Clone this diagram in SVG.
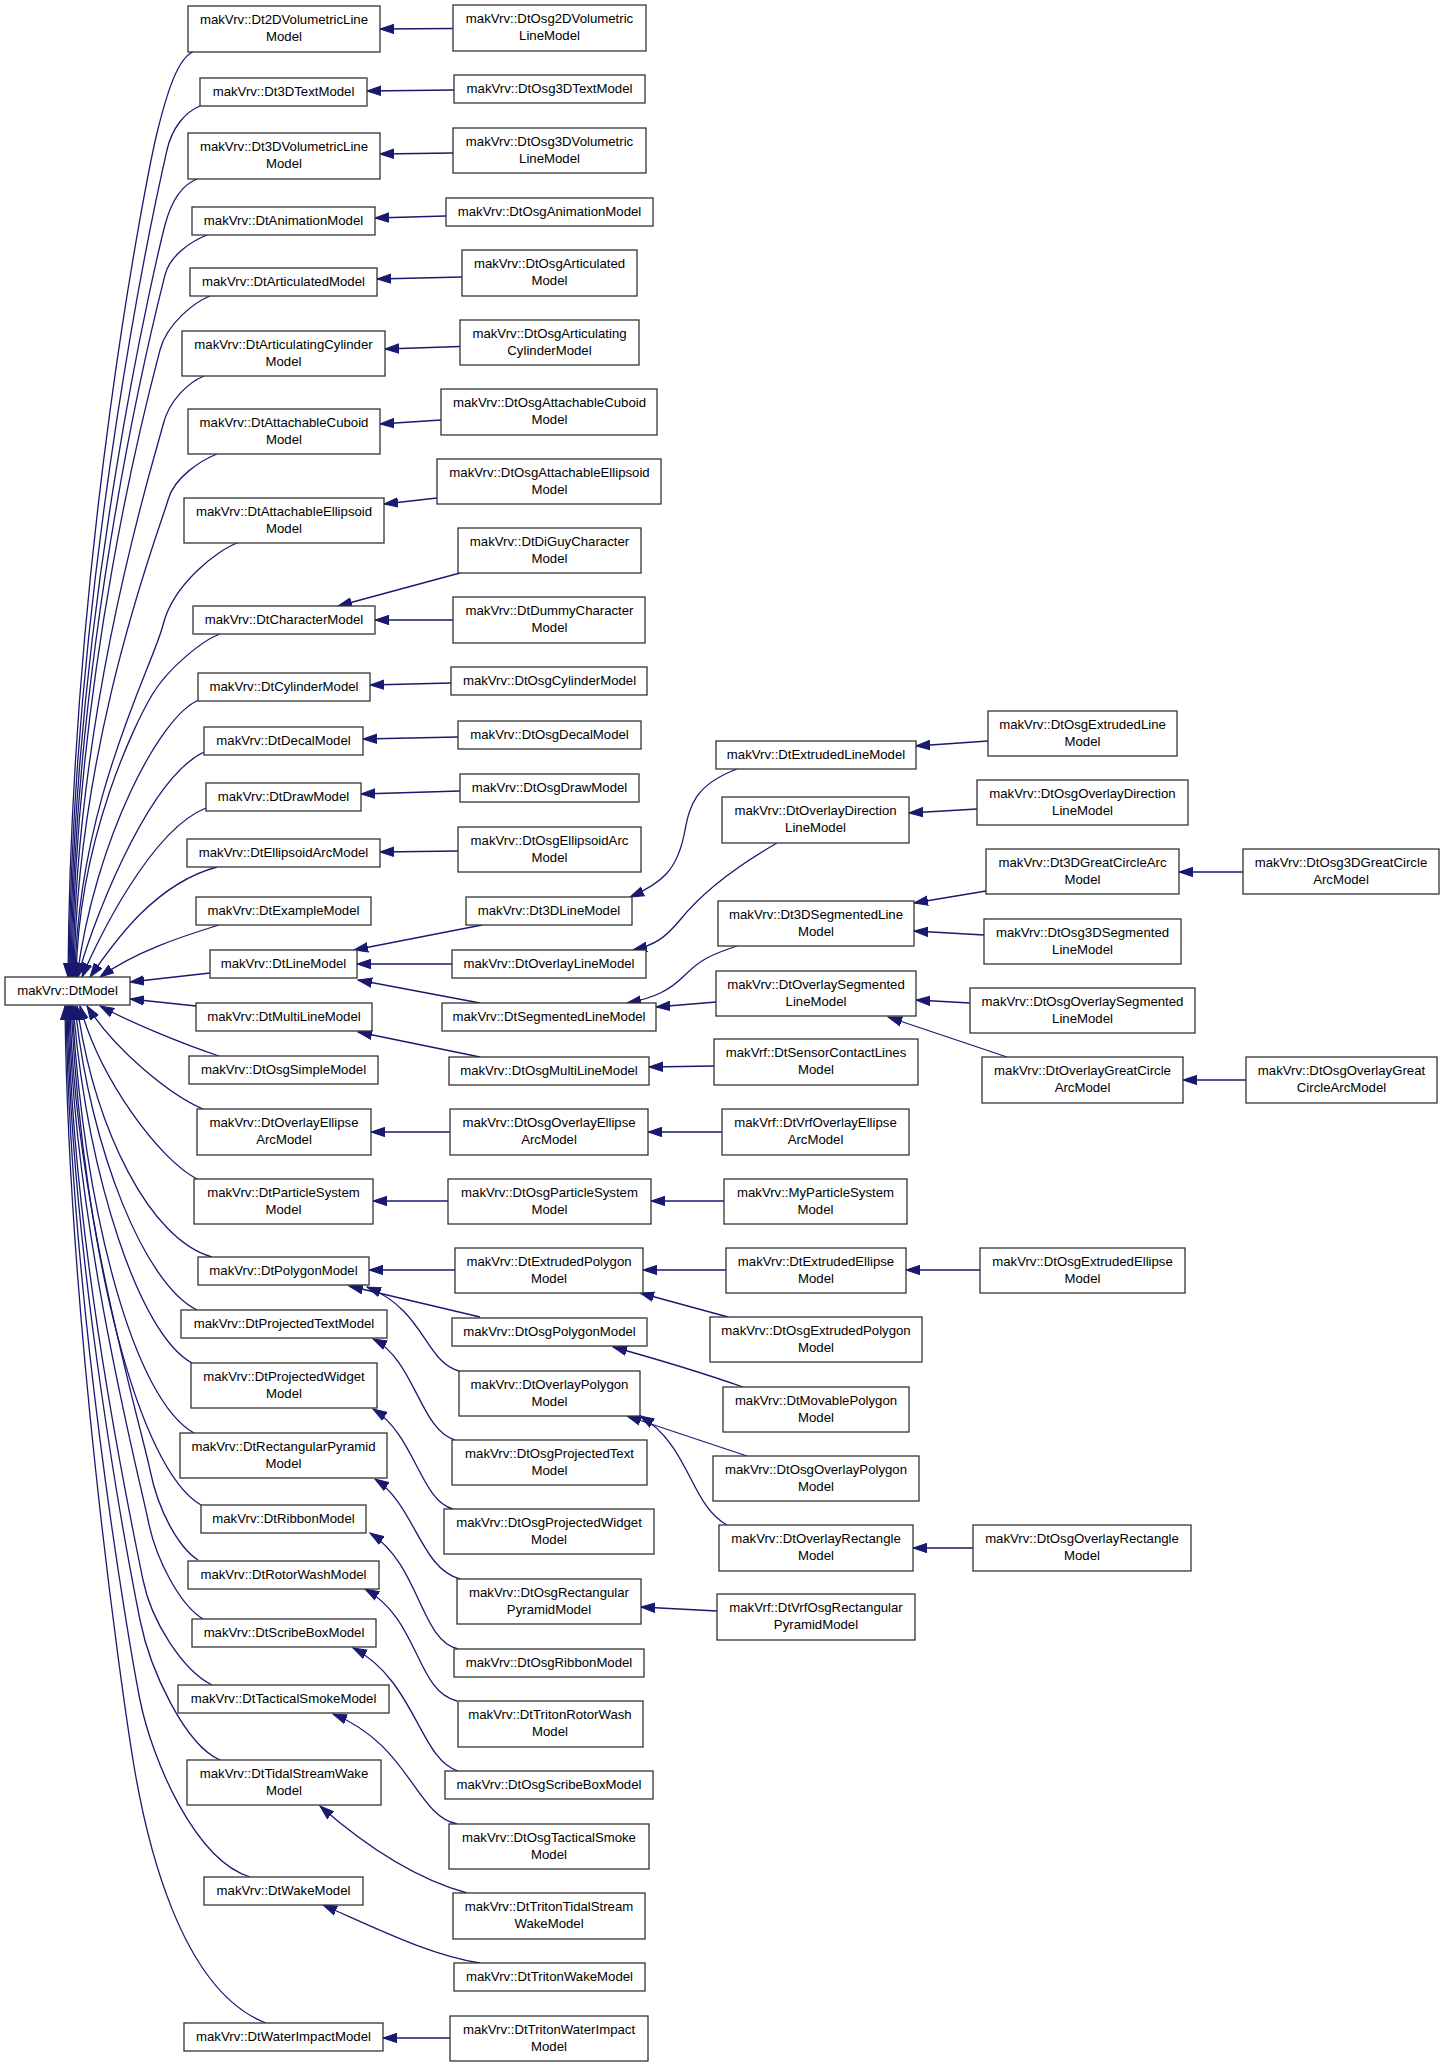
<svg xmlns="http://www.w3.org/2000/svg" width="1445" height="2067" viewBox="0 0 1445 2067">
<style>
.n rect{fill:#fff;stroke:#333;stroke-width:1.3}
.n text{font-family:"Liberation Sans",Arial,sans-serif;font-size:13.2px;fill:#000;text-anchor:middle;transform:translate(0px,-1px)}
#edges path{fill:none;stroke:#191970;stroke-width:1.3;marker-end:url(#ah)}
</style>
<defs>
<marker id="ah" markerUnits="userSpaceOnUse" markerWidth="15" markerHeight="11" viewBox="0 0 15 11" refX="14" refY="5.5" orient="auto"><path d="M0,0.8 L14,5.5 L0,10.2 z" fill="#191970" stroke="#191970" stroke-width="1"/></marker>
</defs>
<rect width="1445" height="2067" fill="#fff"/>
<g id="edges">
<path d="M193,52 C178,58 167,92 157,133 S71,555 68,977"/>
<path d="M200,106 C185,112 172,128 167,150 S72,564 69,977"/>
<path d="M197,179 C182,185 171,202 165,225 S73,601 70,977"/>
<path d="M207,235 C192,241 170,255 165,275 S74,626 71,977"/>
<path d="M210,296 C195,302 167,323 160,350 S75,663 72,977"/>
<path d="M204,376 C189,382 169,400 163,425 S76,701 73,977"/>
<path d="M217,454 C202,460 174,477 168,500 S77,738 74,977"/>
<path d="M237,543 C218,550 173,584 163,625 S78,801 75,977"/>
<path d="M220,634 C203,640 168,668 152,695 S79,836 76,977"/>
<path d="M199,700 C160,715 95,840 77,977"/>
<path d="M204,752 C145,780 88,935 78,977"/>
<path d="M206,808 C150,830 95,945 82,977"/>
<path d="M217,867 C150,885 108,952 90,977"/>
<path d="M219,925 C180,937 135,952 100,977"/>
<path d="M210,973 L130,982"/>
<path d="M196,1006 L130,999"/>
<path d="M219,1056 C180,1043 130,1022 100,1006"/>
<path d="M203,1109 C170,1095 115,1050 87,1006"/>
<path d="M197,1179 C160,1160 100,1080 80,1006"/>
<path d="M212,1257 C150,1240 95,1130 77,1006"/>
<path d="M197,1310 C145,1285 90,1150 75,1006"/>
<path d="M192,1363 C140,1335 88,1180 73,1006"/>
<path d="M194,1433 C135,1400 85,1220 72,1006"/>
<path d="M201,1505 C140,1470 84,1260 71,1006"/>
<path d="M198,1560 C178,1547 158,1510 150,1470 S74,1201 70,1006"/>
<path d="M203,1619 C180,1605 156,1560 148,1520 S73,1222 69,1006"/>
<path d="M212,1685 C182,1670 151,1620 143,1580 S72,1247 68,1006"/>
<path d="M220,1760 C185,1745 150,1670 140,1620 S71,1264 67,1006"/>
<path d="M250,1877 C195,1860 152,1760 140,1700 S70,1297 66,1006"/>
<path d="M266,2023 C180,1990 146,1840 133,1760 S68,1308 65,1006"/>
<path d="M453,28.5 L380,29"/>
<path d="M454,90 L367,91"/>
<path d="M453,153 L380,154"/>
<path d="M446,216 L375,218"/>
<path d="M462,277 L377,279"/>
<path d="M460,346.5 L385,349"/>
<path d="M441,420 L380,424"/>
<path d="M437,498 L384,504"/>
<path d="M460,573 L338,606"/>
<path d="M453,620 L375,620"/>
<path d="M451,683 L370,685"/>
<path d="M458,737 L363,739"/>
<path d="M460,791 L361,794"/>
<path d="M458,851 L380,852"/>
<path d="M482,925 L354,950"/>
<path d="M452,964 L357,964"/>
<path d="M480,1003 L358,980"/>
<path d="M480,1057 L358,1032"/>
<path d="M450,1132 L371,1132"/>
<path d="M448,1201 L373,1201"/>
<path d="M455,1270 L369,1270"/>
<path d="M480,1317 L349,1286"/>
<path d="M459,1371 C425,1362 425,1310 367,1287"/>
<path d="M455,1440 C420,1430 415,1360 373,1339"/>
<path d="M453,1509 C420,1500 415,1435 373,1409"/>
<path d="M460,1579 C420,1568 415,1505 375,1479"/>
<path d="M458,1649 C420,1640 420,1565 370,1533"/>
<path d="M457,1701 C415,1690 420,1620 365,1589"/>
<path d="M458,1771 C420,1760 415,1680 353,1648"/>
<path d="M457,1824 C415,1815 410,1745 333,1714"/>
<path d="M467,1893 C420,1880 370,1850 320,1806"/>
<path d="M480,1963 C430,1955 380,1930 323,1905"/>
<path d="M450,2038 L383,2038"/>
<path d="M737,769 C695,785 690,805 685,830 C678,870 662,883 630,897"/>
<path d="M777,843 C730,870 700,895 680,920 C665,938 655,945 633,950"/>
<path d="M737,946 C710,955 700,960 685,975 C670,990 655,998 627,1003"/>
<path d="M716,1002 L656,1007"/>
<path d="M714,1066 L649,1067"/>
<path d="M722,1132 L648,1132"/>
<path d="M724,1201 L651,1201"/>
<path d="M726,1270 L643,1270"/>
<path d="M728,1317 L640,1293"/>
<path d="M743,1387 C700,1372 660,1360 613,1347"/>
<path d="M747,1456 L627,1416"/>
<path d="M727,1525 C690,1505 690,1445 640,1416"/>
<path d="M717,1611 L641,1607"/>
<path d="M988,741 L916,746"/>
<path d="M977,809 L909,813"/>
<path d="M986,891 L914,903"/>
<path d="M984,935 L914,931"/>
<path d="M970,1003 L916,1000"/>
<path d="M1007,1057 L888,1017"/>
<path d="M980,1270 L906,1270"/>
<path d="M973,1548 L913,1548"/>
<path d="M1243,872 L1179,872"/>
<path d="M1246,1080 L1183,1080"/>
</g>
<g id="n_DtModel" class="n"><rect x="5" y="977" width="125" height="28"/><text x="67.5" y="995.5">makVrv::DtModel</text></g>
<g id="n_Dt2DVolumetricLineModel" class="n"><rect x="188" y="6" width="192" height="46"/><text x="284" y="25">makVrv::Dt2DVolumetricLine<tspan x="284" dy="17">Model</tspan></text></g>
<g id="n_Dt3DTextModel" class="n"><rect x="200" y="78" width="167" height="28"/><text x="283.5" y="96.5">makVrv::Dt3DTextModel</text></g>
<g id="n_Dt3DVolumetricLineModel" class="n"><rect x="188" y="133" width="192" height="46"/><text x="284" y="152">makVrv::Dt3DVolumetricLine<tspan x="284" dy="17">Model</tspan></text></g>
<g id="n_DtAnimationModel" class="n"><rect x="192" y="207" width="183" height="28"/><text x="283.5" y="225.5">makVrv::DtAnimationModel</text></g>
<g id="n_DtArticulatedModel" class="n"><rect x="190" y="268" width="187" height="28"/><text x="283.5" y="286.5">makVrv::DtArticulatedModel</text></g>
<g id="n_DtArticulatingCylinderModel" class="n"><rect x="182" y="331" width="203" height="45"/><text x="283.5" y="350">makVrv::DtArticulatingCylinder<tspan x="283.5" dy="17">Model</tspan></text></g>
<g id="n_DtAttachableCuboidModel" class="n"><rect x="188" y="409" width="192" height="45"/><text x="284" y="428">makVrv::DtAttachableCuboid<tspan x="284" dy="17">Model</tspan></text></g>
<g id="n_DtAttachableEllipsoidModel" class="n"><rect x="184" y="498" width="200" height="45"/><text x="284" y="517">makVrv::DtAttachableEllipsoid<tspan x="284" dy="17">Model</tspan></text></g>
<g id="n_DtCharacterModel" class="n"><rect x="193" y="606" width="182" height="28"/><text x="284" y="624.5">makVrv::DtCharacterModel</text></g>
<g id="n_DtCylinderModel" class="n"><rect x="198" y="673" width="172" height="28"/><text x="284" y="691.5">makVrv::DtCylinderModel</text></g>
<g id="n_DtDecalModel" class="n"><rect x="204" y="727" width="159" height="28"/><text x="283.5" y="745.5">makVrv::DtDecalModel</text></g>
<g id="n_DtDrawModel" class="n"><rect x="206" y="783" width="155" height="28"/><text x="283.5" y="801.5">makVrv::DtDrawModel</text></g>
<g id="n_DtEllipsoidArcModel" class="n"><rect x="187" y="839" width="193" height="28"/><text x="283.5" y="857.5">makVrv::DtEllipsoidArcModel</text></g>
<g id="n_DtExampleModel" class="n"><rect x="196" y="897" width="175" height="28"/><text x="283.5" y="915.5">makVrv::DtExampleModel</text></g>
<g id="n_DtLineModel" class="n"><rect x="210" y="950" width="147" height="28"/><text x="283.5" y="968.5">makVrv::DtLineModel</text></g>
<g id="n_DtMultiLineModel" class="n"><rect x="196" y="1003" width="176" height="28"/><text x="284" y="1021.5">makVrv::DtMultiLineModel</text></g>
<g id="n_DtOsgSimpleModel" class="n"><rect x="189" y="1056" width="189" height="28"/><text x="283.5" y="1074.5">makVrv::DtOsgSimpleModel</text></g>
<g id="n_DtOverlayEllipseArcModel" class="n"><rect x="197" y="1109" width="174" height="46"/><text x="284" y="1128">makVrv::DtOverlayEllipse<tspan x="284" dy="17">ArcModel</tspan></text></g>
<g id="n_DtParticleSystemModel" class="n"><rect x="194" y="1179" width="179" height="45"/><text x="283.5" y="1198">makVrv::DtParticleSystem<tspan x="283.5" dy="17">Model</tspan></text></g>
<g id="n_DtPolygonModel" class="n"><rect x="198" y="1257" width="171" height="28"/><text x="283.5" y="1275.5">makVrv::DtPolygonModel</text></g>
<g id="n_DtProjectedTextModel" class="n"><rect x="181" y="1310" width="206" height="28"/><text x="284" y="1328.5">makVrv::DtProjectedTextModel</text></g>
<g id="n_DtProjectedWidgetModel" class="n"><rect x="191" y="1363" width="186" height="45"/><text x="284" y="1382">makVrv::DtProjectedWidget<tspan x="284" dy="17">Model</tspan></text></g>
<g id="n_DtRectangularPyramidModel" class="n"><rect x="180" y="1433" width="207" height="45"/><text x="283.5" y="1452">makVrv::DtRectangularPyramid<tspan x="283.5" dy="17">Model</tspan></text></g>
<g id="n_DtRibbonModel" class="n"><rect x="201" y="1505" width="165" height="28"/><text x="283.5" y="1523.5">makVrv::DtRibbonModel</text></g>
<g id="n_DtRotorWashModel" class="n"><rect x="188" y="1561" width="191" height="28"/><text x="283.5" y="1579.5">makVrv::DtRotorWashModel</text></g>
<g id="n_DtScribeBoxModel" class="n"><rect x="192" y="1619" width="184" height="28"/><text x="284" y="1637.5">makVrv::DtScribeBoxModel</text></g>
<g id="n_DtTacticalSmokeModel" class="n"><rect x="178" y="1685" width="211" height="28"/><text x="283.5" y="1703.5">makVrv::DtTacticalSmokeModel</text></g>
<g id="n_DtTidalStreamWakeModel" class="n"><rect x="187" y="1760" width="194" height="45"/><text x="284" y="1779">makVrv::DtTidalStreamWake<tspan x="284" dy="17">Model</tspan></text></g>
<g id="n_DtWakeModel" class="n"><rect x="204" y="1877" width="159" height="28"/><text x="283.5" y="1895.5">makVrv::DtWakeModel</text></g>
<g id="n_DtWaterImpactModel" class="n"><rect x="184" y="2023" width="199" height="28"/><text x="283.5" y="2041.5">makVrv::DtWaterImpactModel</text></g>
<g id="n_DtOsg2DVolumetricLineModel" class="n"><rect x="453" y="5" width="193" height="46"/><text x="549.5" y="24">makVrv::DtOsg2DVolumetric<tspan x="549.5" dy="17">LineModel</tspan></text></g>
<g id="n_DtOsg3DTextModel" class="n"><rect x="454" y="75" width="191" height="28"/><text x="549.5" y="93.5">makVrv::DtOsg3DTextModel</text></g>
<g id="n_DtOsg3DVolumetricLineModel" class="n"><rect x="453" y="128" width="193" height="45"/><text x="549.5" y="147">makVrv::DtOsg3DVolumetric<tspan x="549.5" dy="17">LineModel</tspan></text></g>
<g id="n_DtOsgAnimationModel" class="n"><rect x="446" y="198" width="207" height="28"/><text x="549.5" y="216.5">makVrv::DtOsgAnimationModel</text></g>
<g id="n_DtOsgArticulatedModel" class="n"><rect x="462" y="250" width="175" height="46"/><text x="549.5" y="269">makVrv::DtOsgArticulated<tspan x="549.5" dy="17">Model</tspan></text></g>
<g id="n_DtOsgArticulatingCylinderModel" class="n"><rect x="460" y="320" width="179" height="45"/><text x="549.5" y="339">makVrv::DtOsgArticulating<tspan x="549.5" dy="17">CylinderModel</tspan></text></g>
<g id="n_DtOsgAttachableCuboidModel" class="n"><rect x="441" y="389" width="216" height="46"/><text x="549.5" y="408">makVrv::DtOsgAttachableCuboid<tspan x="549.5" dy="17">Model</tspan></text></g>
<g id="n_DtOsgAttachableEllipsoidModel" class="n"><rect x="437" y="459" width="224" height="45"/><text x="549.5" y="478">makVrv::DtOsgAttachableEllipsoid<tspan x="549.5" dy="17">Model</tspan></text></g>
<g id="n_DtDiGuyCharacterModel" class="n"><rect x="458" y="528" width="183" height="45"/><text x="549.5" y="547">makVrv::DtDiGuyCharacter<tspan x="549.5" dy="17">Model</tspan></text></g>
<g id="n_DtDummyCharacterModel" class="n"><rect x="453" y="597" width="192" height="46"/><text x="549.5" y="616">makVrv::DtDummyCharacter<tspan x="549.5" dy="17">Model</tspan></text></g>
<g id="n_DtOsgCylinderModel" class="n"><rect x="451" y="667" width="196" height="28"/><text x="549.5" y="685.5">makVrv::DtOsgCylinderModel</text></g>
<g id="n_DtOsgDecalModel" class="n"><rect x="458" y="721" width="183" height="28"/><text x="549.5" y="739.5">makVrv::DtOsgDecalModel</text></g>
<g id="n_DtOsgDrawModel" class="n"><rect x="460" y="774" width="179" height="28"/><text x="549.5" y="792.5">makVrv::DtOsgDrawModel</text></g>
<g id="n_DtOsgEllipsoidArcModel" class="n"><rect x="458" y="827" width="183" height="45"/><text x="549.5" y="846">makVrv::DtOsgEllipsoidArc<tspan x="549.5" dy="17">Model</tspan></text></g>
<g id="n_Dt3DLineModel" class="n"><rect x="466" y="897" width="166" height="28"/><text x="549" y="915.5">makVrv::Dt3DLineModel</text></g>
<g id="n_DtOverlayLineModel" class="n"><rect x="452" y="950" width="194" height="28"/><text x="549" y="968.5">makVrv::DtOverlayLineModel</text></g>
<g id="n_DtSegmentedLineModel" class="n"><rect x="442" y="1003" width="214" height="28"/><text x="549" y="1021.5">makVrv::DtSegmentedLineModel</text></g>
<g id="n_DtOsgMultiLineModel" class="n"><rect x="449" y="1057" width="200" height="28"/><text x="549" y="1075.5">makVrv::DtOsgMultiLineModel</text></g>
<g id="n_DtOsgOverlayEllipseArcModel" class="n"><rect x="450" y="1109" width="198" height="46"/><text x="549" y="1128">makVrv::DtOsgOverlayEllipse<tspan x="549" dy="17">ArcModel</tspan></text></g>
<g id="n_DtOsgParticleSystemModel" class="n"><rect x="448" y="1179" width="203" height="45"/><text x="549.5" y="1198">makVrv::DtOsgParticleSystem<tspan x="549.5" dy="17">Model</tspan></text></g>
<g id="n_DtExtrudedPolygonModel" class="n"><rect x="455" y="1248" width="188" height="45"/><text x="549" y="1267">makVrv::DtExtrudedPolygon<tspan x="549" dy="17">Model</tspan></text></g>
<g id="n_DtOsgPolygonModel" class="n"><rect x="452" y="1318" width="195" height="28"/><text x="549.5" y="1336.5">makVrv::DtOsgPolygonModel</text></g>
<g id="n_DtOverlayPolygonModel" class="n"><rect x="459" y="1371" width="181" height="45"/><text x="549.5" y="1390">makVrv::DtOverlayPolygon<tspan x="549.5" dy="17">Model</tspan></text></g>
<g id="n_DtOsgProjectedTextModel" class="n"><rect x="452" y="1440" width="195" height="45"/><text x="549.5" y="1459">makVrv::DtOsgProjectedText<tspan x="549.5" dy="17">Model</tspan></text></g>
<g id="n_DtOsgProjectedWidgetModel" class="n"><rect x="444" y="1509" width="210" height="45"/><text x="549" y="1528">makVrv::DtOsgProjectedWidget<tspan x="549" dy="17">Model</tspan></text></g>
<g id="n_DtOsgRectangularPyramidModel" class="n"><rect x="457" y="1579" width="184" height="45"/><text x="549" y="1598">makVrv::DtOsgRectangular<tspan x="549" dy="17">PyramidModel</tspan></text></g>
<g id="n_DtOsgRibbonModel" class="n"><rect x="454" y="1649" width="190" height="28"/><text x="549" y="1667.5">makVrv::DtOsgRibbonModel</text></g>
<g id="n_DtTritonRotorWashModel" class="n"><rect x="458" y="1701" width="185" height="46"/><text x="550" y="1720">makVrv::DtTritonRotorWash<tspan x="550" dy="17">Model</tspan></text></g>
<g id="n_DtOsgScribeBoxModel" class="n"><rect x="445" y="1771" width="208" height="28"/><text x="549" y="1789.5">makVrv::DtOsgScribeBoxModel</text></g>
<g id="n_DtOsgTacticalSmokeModel" class="n"><rect x="449" y="1824" width="200" height="45"/><text x="549" y="1843">makVrv::DtOsgTacticalSmoke<tspan x="549" dy="17">Model</tspan></text></g>
<g id="n_DtTritonTidalStreamWakeModel" class="n"><rect x="453" y="1893" width="192" height="46"/><text x="549" y="1912">makVrv::DtTritonTidalStream<tspan x="549" dy="17">WakeModel</tspan></text></g>
<g id="n_DtTritonWakeModel" class="n"><rect x="454" y="1963" width="191" height="28"/><text x="549.5" y="1981.5">makVrv::DtTritonWakeModel</text></g>
<g id="n_DtTritonWaterImpactModel" class="n"><rect x="450" y="2016" width="198" height="45"/><text x="549" y="2035">makVrv::DtTritonWaterImpact<tspan x="549" dy="17">Model</tspan></text></g>
<g id="n_DtExtrudedLineModel" class="n"><rect x="716" y="741" width="200" height="28"/><text x="816" y="759.5">makVrv::DtExtrudedLineModel</text></g>
<g id="n_DtOverlayDirectionLineModel" class="n"><rect x="722" y="797" width="187" height="46"/><text x="815.5" y="816">makVrv::DtOverlayDirection<tspan x="815.5" dy="17">LineModel</tspan></text></g>
<g id="n_Dt3DSegmentedLineModel" class="n"><rect x="718" y="901" width="196" height="45"/><text x="816" y="920">makVrv::Dt3DSegmentedLine<tspan x="816" dy="17">Model</tspan></text></g>
<g id="n_DtOverlaySegmentedLineModel" class="n"><rect x="716" y="971" width="200" height="45"/><text x="816" y="990">makVrv::DtOverlaySegmented<tspan x="816" dy="17">LineModel</tspan></text></g>
<g id="n_DtSensorContactLinesModel" class="n"><rect x="714" y="1039" width="204" height="46"/><text x="816" y="1058">makVrf::DtSensorContactLines<tspan x="816" dy="17">Model</tspan></text></g>
<g id="n_DtVrfOverlayEllipseArcModel" class="n"><rect x="722" y="1109" width="187" height="46"/><text x="815.5" y="1128">makVrf::DtVrfOverlayEllipse<tspan x="815.5" dy="17">ArcModel</tspan></text></g>
<g id="n_MyParticleSystemModel" class="n"><rect x="724" y="1179" width="183" height="45"/><text x="815.5" y="1198">makVrv::MyParticleSystem<tspan x="815.5" dy="17">Model</tspan></text></g>
<g id="n_DtExtrudedEllipseModel" class="n"><rect x="726" y="1248" width="180" height="45"/><text x="816" y="1267">makVrv::DtExtrudedEllipse<tspan x="816" dy="17">Model</tspan></text></g>
<g id="n_DtOsgExtrudedPolygonModel" class="n"><rect x="710" y="1317" width="212" height="45"/><text x="816" y="1336">makVrv::DtOsgExtrudedPolygon<tspan x="816" dy="17">Model</tspan></text></g>
<g id="n_DtMovablePolygonModel" class="n"><rect x="723" y="1387" width="186" height="45"/><text x="816" y="1406">makVrv::DtMovablePolygon<tspan x="816" dy="17">Model</tspan></text></g>
<g id="n_DtOsgOverlayPolygonModel" class="n"><rect x="713" y="1456" width="206" height="45"/><text x="816" y="1475">makVrv::DtOsgOverlayPolygon<tspan x="816" dy="17">Model</tspan></text></g>
<g id="n_DtOverlayRectangleModel" class="n"><rect x="719" y="1525" width="194" height="46"/><text x="816" y="1544">makVrv::DtOverlayRectangle<tspan x="816" dy="17">Model</tspan></text></g>
<g id="n_DtVrfOsgRectangularPyramidModel" class="n"><rect x="717" y="1594" width="198" height="46"/><text x="816" y="1613">makVrf::DtVrfOsgRectangular<tspan x="816" dy="17">PyramidModel</tspan></text></g>
<g id="n_DtOsgExtrudedLineModel" class="n"><rect x="988" y="711" width="189" height="45"/><text x="1082.5" y="730">makVrv::DtOsgExtrudedLine<tspan x="1082.5" dy="17">Model</tspan></text></g>
<g id="n_DtOsgOverlayDirectionLineModel" class="n"><rect x="977" y="780" width="211" height="45"/><text x="1082.5" y="799">makVrv::DtOsgOverlayDirection<tspan x="1082.5" dy="17">LineModel</tspan></text></g>
<g id="n_Dt3DGreatCircleArcModel" class="n"><rect x="986" y="849" width="193" height="45"/><text x="1082.5" y="868">makVrv::Dt3DGreatCircleArc<tspan x="1082.5" dy="17">Model</tspan></text></g>
<g id="n_DtOsg3DSegmentedLineModel" class="n"><rect x="984" y="919" width="197" height="45"/><text x="1082.5" y="938">makVrv::DtOsg3DSegmented<tspan x="1082.5" dy="17">LineModel</tspan></text></g>
<g id="n_DtOsgOverlaySegmentedLineModel" class="n"><rect x="970" y="988" width="225" height="45"/><text x="1082.5" y="1007">makVrv::DtOsgOverlaySegmented<tspan x="1082.5" dy="17">LineModel</tspan></text></g>
<g id="n_DtOverlayGreatCircleArcModel" class="n"><rect x="982" y="1057" width="201" height="46"/><text x="1082.5" y="1076">makVrv::DtOverlayGreatCircle<tspan x="1082.5" dy="17">ArcModel</tspan></text></g>
<g id="n_DtOsgExtrudedEllipseModel" class="n"><rect x="980" y="1248" width="205" height="45"/><text x="1082.5" y="1267">makVrv::DtOsgExtrudedEllipse<tspan x="1082.5" dy="17">Model</tspan></text></g>
<g id="n_DtOsgOverlayRectangleModel" class="n"><rect x="973" y="1525" width="218" height="46"/><text x="1082" y="1544">makVrv::DtOsgOverlayRectangle<tspan x="1082" dy="17">Model</tspan></text></g>
<g id="n_DtOsg3DGreatCircleArcModel" class="n"><rect x="1243" y="849" width="196" height="45"/><text x="1341" y="868">makVrv::DtOsg3DGreatCircle<tspan x="1341" dy="17">ArcModel</tspan></text></g>
<g id="n_DtOsgOverlayGreatCircleArcModel" class="n"><rect x="1246" y="1057" width="191" height="46"/><text x="1341.5" y="1076">makVrv::DtOsgOverlayGreat<tspan x="1341.5" dy="17">CircleArcModel</tspan></text></g>
</svg>
